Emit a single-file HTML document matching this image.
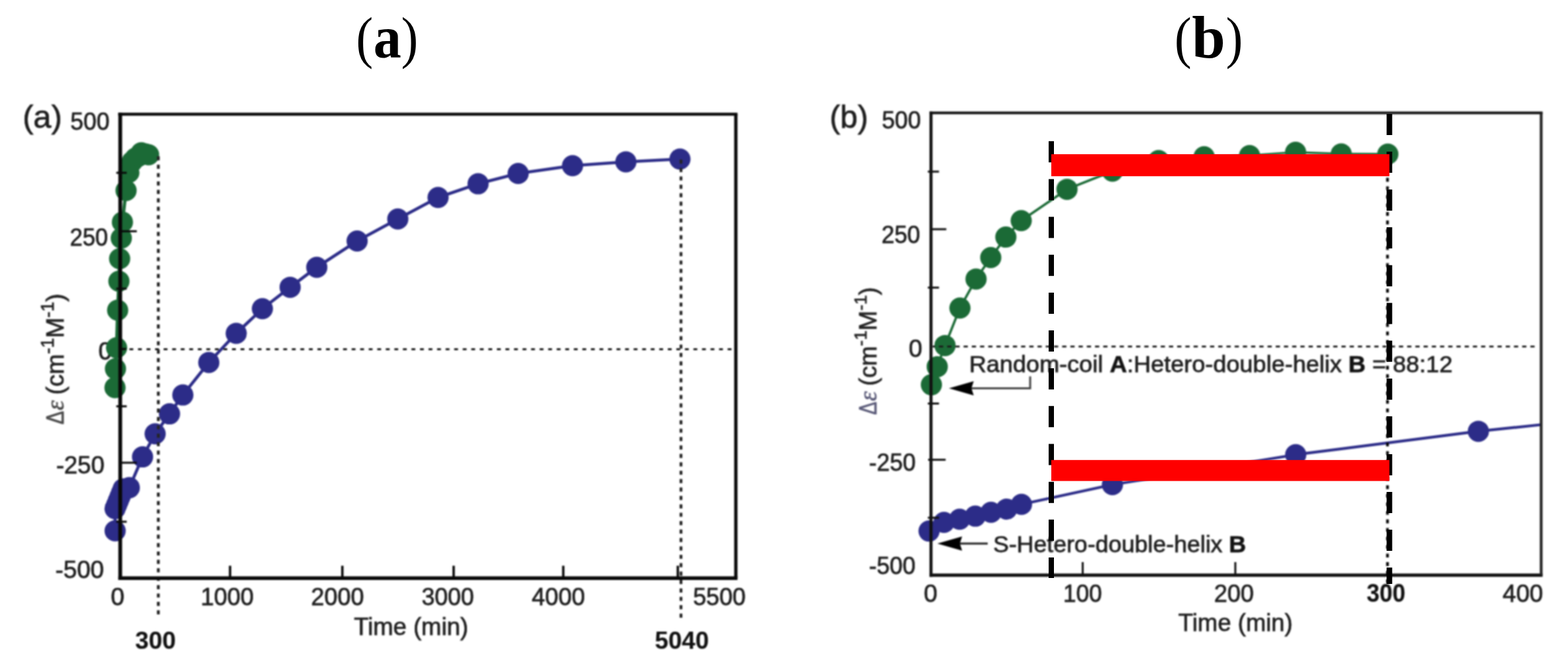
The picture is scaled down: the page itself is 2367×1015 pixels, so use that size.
<!DOCTYPE html>
<html lang="en"><head><meta charset="utf-8"><title>Figure</title>
<style>
html,body{margin:0;padding:0;background:#fff;}
body{width:2367px;height:1015px;overflow:hidden;}
svg{display:block;}
</style></head><body>
<svg width="2367" height="1015" viewBox="0 0 2367 1015">
<defs><filter id="soft" filterUnits="userSpaceOnUse" x="0" y="120" width="2367" height="895" color-interpolation-filters="sRGB"><feGaussianBlur stdDeviation="0.8"/></filter></defs>
<rect width="2367" height="1015" fill="#fff"/>
<g id="titles" font-family="'Liberation Serif', 'Times New Roman', serif" fill="#000">
<text transform="translate(537.6,85.5) scale(0.887,1)" font-size="86.9">(</text>
<text x="563.8" y="87" font-size="92" font-weight="bold" textLength="42" lengthAdjust="spacingAndGlyphs">a</text>
<text transform="translate(605.6,85.5) scale(0.887,1)" font-size="86.9">)</text>
<text transform="translate(1773,85.5) scale(0.887,1)" font-size="86.9">(</text>
<text x="1799.2" y="87" font-size="92" font-weight="bold" textLength="50.4" lengthAdjust="spacingAndGlyphs">b</text>
<text transform="translate(1850.5,85.5) scale(0.887,1)" font-size="86.9">)</text>
</g>
<g id="panel-a" filter="url(#soft)">
<text x="169" y="543" font-size="37" text-anchor="end" font-weight="normal" fill="#1e1e1e" stroke="#1e1e1e" stroke-width="0.75" font-family="'Liberation Sans', Arial, Helvetica, sans-serif" >0</text>
<path d="M173.6,585.5 L174.3,557.1 L176.0,525.2 L177.6,468.5 L179.5,424.7 L180.6,390.8 L183.1,359.8 L184.8,335.5 L190.3,287.8 L194.5,260.5 L199.5,244.0 L204.5,238.8 L209.5,235.8 L213.3,230.8 L219.5,232.5 L224.3,233.8" fill="none" stroke="#1b6a36" stroke-width="5" stroke-linejoin="round"/>
<circle cx="173.6" cy="585.5" r="16" fill="#1b6a36"/>
<circle cx="174.3" cy="557.1" r="16" fill="#1b6a36"/>
<circle cx="176.0" cy="525.2" r="16" fill="#1b6a36"/>
<circle cx="177.6" cy="468.5" r="16" fill="#1b6a36"/>
<circle cx="179.5" cy="424.7" r="16" fill="#1b6a36"/>
<circle cx="180.6" cy="390.8" r="16" fill="#1b6a36"/>
<circle cx="183.1" cy="359.8" r="16" fill="#1b6a36"/>
<circle cx="184.8" cy="335.5" r="16" fill="#1b6a36"/>
<circle cx="190.3" cy="287.8" r="16" fill="#1b6a36"/>
<circle cx="194.5" cy="260.5" r="16" fill="#1b6a36"/>
<circle cx="199.5" cy="244.0" r="16" fill="#1b6a36"/>
<circle cx="204.5" cy="238.8" r="16" fill="#1b6a36"/>
<circle cx="209.5" cy="235.8" r="16" fill="#1b6a36"/>
<circle cx="213.3" cy="230.8" r="16" fill="#1b6a36"/>
<circle cx="219.5" cy="232.5" r="16" fill="#1b6a36"/>
<circle cx="224.3" cy="233.8" r="16" fill="#1b6a36"/>
<path d="M173.8,801.7 L173.7,768.3 L176.2,762.3 L178.6,756.3 L181.1,750.3 L183.5,744.4 L186.0,738.4 L195.2,736.6 L215.2,690.1 L234.2,655.3 L255.9,625.1 L276.0,596.6 L315.2,547.5 L356.6,503.5 L396.1,466.3 L438.0,433.9 L478.2,403.7 L539.1,364.0 L600.5,330.8 L661.3,298.2 L721.7,277.6 L782.2,262.0 L864.3,250.2 L944.8,244.5 L1026.4,240.2" fill="none" stroke="#2c2c88" stroke-width="4.6" stroke-linejoin="round"/>
<circle cx="173.8" cy="801.7" r="16" fill="#2c2c88"/>
<circle cx="173.7" cy="768.3" r="16" fill="#2c2c88"/>
<circle cx="176.2" cy="762.3" r="16" fill="#2c2c88"/>
<circle cx="178.6" cy="756.3" r="16" fill="#2c2c88"/>
<circle cx="181.1" cy="750.3" r="16" fill="#2c2c88"/>
<circle cx="183.5" cy="744.4" r="16" fill="#2c2c88"/>
<circle cx="186.0" cy="738.4" r="16" fill="#2c2c88"/>
<circle cx="195.2" cy="736.6" r="16" fill="#2c2c88"/>
<circle cx="215.2" cy="690.1" r="16" fill="#2c2c88"/>
<circle cx="234.2" cy="655.3" r="16" fill="#2c2c88"/>
<circle cx="255.9" cy="625.1" r="16" fill="#2c2c88"/>
<circle cx="276.0" cy="596.6" r="16" fill="#2c2c88"/>
<circle cx="315.2" cy="547.5" r="16" fill="#2c2c88"/>
<circle cx="356.6" cy="503.5" r="16" fill="#2c2c88"/>
<circle cx="396.1" cy="466.3" r="16" fill="#2c2c88"/>
<circle cx="438.0" cy="433.9" r="16" fill="#2c2c88"/>
<circle cx="478.2" cy="403.7" r="16" fill="#2c2c88"/>
<circle cx="539.1" cy="364.0" r="16" fill="#2c2c88"/>
<circle cx="600.5" cy="330.8" r="16" fill="#2c2c88"/>
<circle cx="661.3" cy="298.2" r="16" fill="#2c2c88"/>
<circle cx="721.7" cy="277.6" r="16" fill="#2c2c88"/>
<circle cx="782.2" cy="262.0" r="16" fill="#2c2c88"/>
<circle cx="864.3" cy="250.2" r="16" fill="#2c2c88"/>
<circle cx="944.8" cy="244.5" r="16" fill="#2c2c88"/>
<circle cx="1026.4" cy="240.2" r="16" fill="#2c2c88"/>
<line x1="184" y1="527.5" x2="1106.8" y2="527.5" stroke="#1a1a1a" stroke-width="3.1" stroke-dasharray="5.8 7.1" stroke-dashoffset="1.5"/>
<line x1="239" y1="236" x2="239" y2="934" stroke="#252525" stroke-width="4.3" stroke-dasharray="6.2 6.5"/>
<line x1="1028" y1="241" x2="1028" y2="938" stroke="#252525" stroke-width="4.2" stroke-dasharray="6.2 6.5"/>
<line x1="181.5" y1="170.3" x2="181.5" y2="875.9000000000001" stroke="#080808" stroke-width="5.7" />
<line x1="178.7" y1="873.2" x2="1113.3" y2="873.2" stroke="#080808" stroke-width="5.4" />
<line x1="178.5" y1="172.5" x2="1113.3" y2="172.5" stroke="#080808" stroke-width="4.4" />
<line x1="1110.8" y1="172.5" x2="1110.8" y2="873.2" stroke="#080808" stroke-width="5" />
<line x1="347.3" y1="873.2" x2="347.3" y2="854.5" stroke="#080808" stroke-width="3.6" />
<line x1="516.8" y1="873.2" x2="516.8" y2="854.5" stroke="#080808" stroke-width="3.6" />
<line x1="684.8" y1="873.2" x2="684.8" y2="854.5" stroke="#080808" stroke-width="3.6" />
<line x1="850.3" y1="873.2" x2="850.3" y2="854.5" stroke="#080808" stroke-width="3.6" />
<line x1="1023.2" y1="873.2" x2="1023.2" y2="854.5" stroke="#080808" stroke-width="3.6" />
<line x1="181.5" y1="349.3" x2="206.5" y2="349.3" stroke="#080808" stroke-width="3" />
<line x1="181.5" y1="698.9" x2="206.5" y2="698.9" stroke="#080808" stroke-width="3" />
<line x1="181.5" y1="527" x2="190.5" y2="527" stroke="#080808" stroke-width="3" />
<line x1="175.5" y1="261" x2="191.3" y2="261" stroke="#080808" stroke-width="3" />
<line x1="175.5" y1="436" x2="191.3" y2="436" stroke="#080808" stroke-width="3" />
<line x1="175.5" y1="613.7" x2="191.3" y2="613.7" stroke="#080808" stroke-width="3" />
<line x1="175.5" y1="788" x2="191.3" y2="788" stroke="#080808" stroke-width="3" />
<text x="165.3" y="196" font-size="37" text-anchor="end" font-weight="normal" fill="#1e1e1e" stroke="#1e1e1e" stroke-width="0.75" font-family="'Liberation Sans', Arial, Helvetica, sans-serif" textLength="59" lengthAdjust="spacingAndGlyphs" >500</text>
<text x="163" y="370.5" font-size="37" text-anchor="end" font-weight="normal" fill="#1e1e1e" stroke="#1e1e1e" stroke-width="0.75" font-family="'Liberation Sans', Arial, Helvetica, sans-serif" textLength="57.5" lengthAdjust="spacingAndGlyphs" >250</text>
<text x="157.7" y="715" font-size="37" text-anchor="end" font-weight="normal" fill="#1e1e1e" stroke="#1e1e1e" stroke-width="0.75" font-family="'Liberation Sans', Arial, Helvetica, sans-serif" textLength="73" lengthAdjust="spacingAndGlyphs" >-250</text>
<text x="157" y="872.6" font-size="37" text-anchor="end" font-weight="normal" fill="#1e1e1e" stroke="#1e1e1e" stroke-width="0.75" font-family="'Liberation Sans', Arial, Helvetica, sans-serif" textLength="73.4" lengthAdjust="spacingAndGlyphs" >-500</text>
<text x="177.5" y="914.0" font-size="37" text-anchor="middle" font-weight="normal" fill="#1e1e1e" stroke="#1e1e1e" stroke-width="0.75" font-family="'Liberation Sans', Arial, Helvetica, sans-serif" >0</text>
<text x="343" y="914.0" font-size="37" text-anchor="middle" font-weight="normal" fill="#1e1e1e" stroke="#1e1e1e" stroke-width="0.75" font-family="'Liberation Sans', Arial, Helvetica, sans-serif" textLength="80" lengthAdjust="spacingAndGlyphs" >1000</text>
<text x="509.6" y="914.0" font-size="37" text-anchor="middle" font-weight="normal" fill="#1e1e1e" stroke="#1e1e1e" stroke-width="0.75" font-family="'Liberation Sans', Arial, Helvetica, sans-serif" textLength="80" lengthAdjust="spacingAndGlyphs" >2000</text>
<text x="675.9" y="914.0" font-size="37" text-anchor="middle" font-weight="normal" fill="#1e1e1e" stroke="#1e1e1e" stroke-width="0.75" font-family="'Liberation Sans', Arial, Helvetica, sans-serif" textLength="79" lengthAdjust="spacingAndGlyphs" >3000</text>
<text x="843" y="914.0" font-size="37" text-anchor="middle" font-weight="normal" fill="#1e1e1e" stroke="#1e1e1e" stroke-width="0.75" font-family="'Liberation Sans', Arial, Helvetica, sans-serif" textLength="80.5" lengthAdjust="spacingAndGlyphs" >4000</text>
<text x="1086" y="914.0" font-size="37" text-anchor="middle" font-weight="normal" fill="#1e1e1e" stroke="#1e1e1e" stroke-width="0.75" font-family="'Liberation Sans', Arial, Helvetica, sans-serif" textLength="79.5" lengthAdjust="spacingAndGlyphs" >5500</text>
<text x="534.3" y="959" font-size="37" text-anchor="start" font-weight="normal" fill="#1e1e1e" stroke="#1e1e1e" stroke-width="0.75" font-family="'Liberation Sans', Arial, Helvetica, sans-serif" textLength="172.6" lengthAdjust="spacingAndGlyphs" >Time (min)</text>
<text x="234.8" y="980" font-size="37.5" text-anchor="middle" font-weight="bold" fill="#111" stroke="#111" stroke-width="0.15" font-family="'Liberation Sans', Arial, Helvetica, sans-serif" textLength="61.5" lengthAdjust="spacingAndGlyphs" >300</text>
<text x="1029.3" y="979.6" font-size="37.5" text-anchor="middle" font-weight="bold" fill="#111" stroke="#111" stroke-width="0.15" font-family="'Liberation Sans', Arial, Helvetica, sans-serif" textLength="81.5" lengthAdjust="spacingAndGlyphs" >5040</text>
<text x="34.2" y="193.4" font-size="48" text-anchor="start" font-weight="normal" fill="#1e1e1e" stroke="#1e1e1e" stroke-width="0.75" font-family="'Liberation Sans', Arial, Helvetica, sans-serif" textLength="59.4" lengthAdjust="spacingAndGlyphs" >(a)</text>
<g transform="translate(96,641) rotate(-90) scale(1.0)" font-family="'Liberation Sans', Arial, Helvetica, sans-serif" fill="#222" stroke="#222" stroke-width="0.75">
<text x="0" y="0" font-size="37" fill="#4a4a4a" stroke="#4a4a4a" textLength="20.2" lengthAdjust="spacingAndGlyphs">Δ</text>
<text x="21.3" y="0" font-size="38" fill="#4a4a4a" stroke="#4a4a4a" font-style="italic" font-family="'Liberation Serif', 'Times New Roman', serif">ε</text>
<text x="44.8" y="0" font-size="37">(cm<tspan font-size="27" dy="-15.4">-1</tspan><tspan dy="15.4">M</tspan><tspan font-size="27" dy="-15.4">-1</tspan><tspan dy="15.4">)</tspan></text>
</g>
</g>
<g id="panel-b" filter="url(#soft)">
<path d="M1406.0,581.1 L1414.8,553.9 L1426.6,521.9 L1449.1,465.2 L1473.4,421.4 L1495.6,389.0 L1518.4,358.1 L1541.6,333.2 L1610.7,285.9 L1679.3,258.5 L1749.0,242.5 L1817.7,236.8 L1886.3,235.0 L1955.8,230.0 L2024.7,232.6 L2095.0,232.7" fill="none" stroke="#1b6a36" stroke-width="3.6" stroke-linejoin="round"/>
<circle cx="1406.0" cy="581.1" r="16" fill="#1b6a36"/>
<circle cx="1414.8" cy="553.9" r="16" fill="#1b6a36"/>
<circle cx="1426.6" cy="521.9" r="16" fill="#1b6a36"/>
<circle cx="1449.1" cy="465.2" r="16" fill="#1b6a36"/>
<circle cx="1473.4" cy="421.4" r="16" fill="#1b6a36"/>
<circle cx="1495.6" cy="389.0" r="16" fill="#1b6a36"/>
<circle cx="1518.4" cy="358.1" r="16" fill="#1b6a36"/>
<circle cx="1541.6" cy="333.2" r="16" fill="#1b6a36"/>
<circle cx="1610.7" cy="285.9" r="16" fill="#1b6a36"/>
<circle cx="1679.3" cy="258.5" r="16" fill="#1b6a36"/>
<circle cx="1749.0" cy="242.5" r="16" fill="#1b6a36"/>
<circle cx="1817.7" cy="236.8" r="16" fill="#1b6a36"/>
<circle cx="1886.3" cy="235.0" r="16" fill="#1b6a36"/>
<circle cx="1955.8" cy="230.0" r="16" fill="#1b6a36"/>
<circle cx="2024.7" cy="232.6" r="16" fill="#1b6a36"/>
<circle cx="2095.0" cy="232.7" r="16" fill="#1b6a36"/>
<path d="M1402.5,802.1 L1425.0,789.0 L1448.6,784.3 L1472.3,779.6 L1496.0,773.7 L1519.6,768.9 L1542.0,761.8 L1679.3,732.0 L1956.0,686.7 L2231.7,651.4 L2326.0,641.5" fill="none" stroke="#2c2c88" stroke-width="4.2" stroke-linejoin="round"/>
<circle cx="1402.5" cy="802.1" r="16" fill="#2c2c88"/>
<circle cx="1425.0" cy="789.0" r="16" fill="#2c2c88"/>
<circle cx="1448.6" cy="784.3" r="16" fill="#2c2c88"/>
<circle cx="1472.3" cy="779.6" r="16" fill="#2c2c88"/>
<circle cx="1496.0" cy="773.7" r="16" fill="#2c2c88"/>
<circle cx="1519.6" cy="768.9" r="16" fill="#2c2c88"/>
<circle cx="1542.0" cy="761.8" r="16" fill="#2c2c88"/>
<circle cx="1679.3" cy="732.0" r="16" fill="#2c2c88"/>
<circle cx="1956.0" cy="686.7" r="16" fill="#2c2c88"/>
<circle cx="2231.7" cy="651.4" r="16" fill="#2c2c88"/>
<line x1="1408" y1="523.4" x2="2318" y2="523.4" stroke="#1a1a1a" stroke-width="2.9" stroke-dasharray="6.4 6" stroke-dashoffset="3"/>
<line x1="1405.4" y1="168.6" x2="1405.4" y2="871.3000000000001" stroke="#101010" stroke-width="4.6" />
<line x1="1403.1000000000001" y1="868.7" x2="2328.7" y2="868.7" stroke="#101010" stroke-width="5" />
<line x1="1403.1000000000001" y1="170.5" x2="2328.7" y2="170.5" stroke="#101010" stroke-width="4.2" />
<line x1="2326.5" y1="170.5" x2="2326.5" y2="868.7" stroke="#222" stroke-width="4.2" />
<line x1="1634.4" y1="868.7" x2="1634.4" y2="849" stroke="#101010" stroke-width="3" />
<line x1="1864.8" y1="868.7" x2="1864.8" y2="849" stroke="#101010" stroke-width="3" />
<line x1="1405.4" y1="346.2" x2="1428.5" y2="346.2" stroke="#101010" stroke-width="3" />
<line x1="1401" y1="694.4" x2="1427.5" y2="694.4" stroke="#101010" stroke-width="3" />
<line x1="1400.6" y1="259.2" x2="1417.5" y2="259.2" stroke="#101010" stroke-width="3" />
<line x1="1400.6" y1="434.4" x2="1417.5" y2="434.4" stroke="#101010" stroke-width="3" />
<line x1="1400.6" y1="609.5" x2="1417.5" y2="609.5" stroke="#101010" stroke-width="3" />
<line x1="1400.6" y1="782" x2="1417.5" y2="782" stroke="#101010" stroke-width="3" />
<text x="1390.2" y="194" font-size="37" text-anchor="end" font-weight="normal" fill="#1e1e1e" stroke="#1e1e1e" stroke-width="0.75" font-family="'Liberation Sans', Arial, Helvetica, sans-serif" textLength="59" lengthAdjust="spacingAndGlyphs" >500</text>
<text x="1389.1" y="367" font-size="37" text-anchor="end" font-weight="normal" fill="#1e1e1e" stroke="#1e1e1e" stroke-width="0.75" font-family="'Liberation Sans', Arial, Helvetica, sans-serif" textLength="58.4" lengthAdjust="spacingAndGlyphs" >250</text>
<text x="1392.4" y="538.5" font-size="37" text-anchor="end" font-weight="normal" fill="#1e1e1e" stroke="#1e1e1e" stroke-width="0.75" font-family="'Liberation Sans', Arial, Helvetica, sans-serif" >0</text>
<text x="1382.4" y="711.4" font-size="37" text-anchor="end" font-weight="normal" fill="#1e1e1e" stroke="#1e1e1e" stroke-width="0.75" font-family="'Liberation Sans', Arial, Helvetica, sans-serif" textLength="70.6" lengthAdjust="spacingAndGlyphs" >-250</text>
<text x="1382.1" y="866.8" font-size="37" text-anchor="end" font-weight="normal" fill="#1e1e1e" stroke="#1e1e1e" stroke-width="0.75" font-family="'Liberation Sans', Arial, Helvetica, sans-serif" textLength="70.3" lengthAdjust="spacingAndGlyphs" >-500</text>
<text x="1404.7" y="908.6" font-size="37" text-anchor="middle" font-weight="normal" fill="#1e1e1e" stroke="#1e1e1e" stroke-width="0.75" font-family="'Liberation Sans', Arial, Helvetica, sans-serif" >0</text>
<text x="1634.3" y="909.2" font-size="37" text-anchor="middle" font-weight="normal" fill="#1e1e1e" stroke="#1e1e1e" stroke-width="0.75" font-family="'Liberation Sans', Arial, Helvetica, sans-serif" textLength="58.5" lengthAdjust="spacingAndGlyphs" >100</text>
<text x="1862.8" y="909.2" font-size="37" text-anchor="middle" font-weight="normal" fill="#1e1e1e" stroke="#1e1e1e" stroke-width="0.75" font-family="'Liberation Sans', Arial, Helvetica, sans-serif" textLength="60" lengthAdjust="spacingAndGlyphs" >200</text>
<text x="2298.8" y="908.6" font-size="37" text-anchor="middle" font-weight="normal" fill="#1e1e1e" stroke="#1e1e1e" stroke-width="0.75" font-family="'Liberation Sans', Arial, Helvetica, sans-serif" textLength="61" lengthAdjust="spacingAndGlyphs" >400</text>
<text x="2092.3" y="909.2" font-size="38.2" text-anchor="middle" font-weight="bold" fill="#111" stroke="#111" stroke-width="0.15" font-family="'Liberation Sans', Arial, Helvetica, sans-serif" textLength="58.6" lengthAdjust="spacingAndGlyphs" >300</text>
<text x="1778.8" y="953" font-size="37" text-anchor="start" font-weight="normal" fill="#1e1e1e" stroke="#1e1e1e" stroke-width="0.75" font-family="'Liberation Sans', Arial, Helvetica, sans-serif" textLength="172.7" lengthAdjust="spacingAndGlyphs" >Time (min)</text>
<text x="1252.6" y="193.4" font-size="48" text-anchor="start" font-weight="normal" fill="#1e1e1e" stroke="#1e1e1e" stroke-width="0.75" font-family="'Liberation Sans', Arial, Helvetica, sans-serif" textLength="57.8" lengthAdjust="spacingAndGlyphs" >(b)</text>
<g transform="translate(1322.7,626.6) rotate(-90) scale(0.977)" font-family="'Liberation Sans', Arial, Helvetica, sans-serif" fill="#222" stroke="#222" stroke-width="0.75">
<text x="0" y="0" font-size="37" fill="#5a5a78" stroke="#5a5a78" textLength="20.2" lengthAdjust="spacingAndGlyphs">Δ</text>
<text x="21.3" y="0" font-size="38" fill="#5a5a78" stroke="#5a5a78" font-style="italic" font-family="'Liberation Serif', 'Times New Roman', serif">ε</text>
<text x="44.8" y="0" font-size="37">(cm<tspan font-size="27" dy="-15.4">-1</tspan><tspan dy="15.4">M</tspan><tspan font-size="27" dy="-15.4">-1</tspan><tspan dy="15.4">)</tspan></text>
</g>
<text x="1463" y="562.2" font-size="35" fill="#1e1e1e" stroke="#1e1e1e" stroke-width="0.75" font-family="'Liberation Sans', Arial, Helvetica, sans-serif" textLength="729.7" lengthAdjust="spacingAndGlyphs">Random-coil <tspan font-weight="bold" fill="#111">A</tspan>:Hetero-double-helix <tspan font-weight="bold" fill="#111">B</tspan> = 88:12</text>
<text x="1499.3" y="833.5" font-size="35" fill="#1e1e1e" stroke="#1e1e1e" stroke-width="0.75" font-family="'Liberation Sans', Arial, Helvetica, sans-serif" textLength="381.6" lengthAdjust="spacingAndGlyphs">S-Hetero-double-helix <tspan font-weight="bold" fill="#111">B</tspan></text>
<line x1="2094.5" y1="268.6" x2="2094.5" y2="882" stroke="#000" stroke-width="4" stroke-dasharray="5.8 7.1"/>
<path d="M1555.1,568.5 V586.5 H1466" fill="none" stroke="#444" stroke-width="3"/>
<path d="M1432.5,586.5 L1469.9,575.7 L1466.4,586.5 L1469.9,597.3 Z" fill="#000"/>
<path d="M1491,821 H1448" fill="none" stroke="#222" stroke-width="3"/>
<path d="M1415,821 L1452.4,810.2 L1448.9,821 L1452.4,831.8 Z" fill="#000"/>
</g>
<g id="overlay-b">
<line x1="1587" y1="213.3" x2="1587" y2="873" stroke="#000" stroke-width="8" stroke-dasharray="32 25.15"/>
<line x1="2097.4" y1="172" x2="2097.4" y2="882" stroke="#000" stroke-width="8.4" stroke-dasharray="32 25.1"/>
<rect x="1587" y="232.9" width="510.4" height="33.3" fill="#ff0000"/>
<rect x="1587" y="694.8" width="510.4" height="31.7" fill="#ff0000"/>
</g>
</svg>
</body></html>
